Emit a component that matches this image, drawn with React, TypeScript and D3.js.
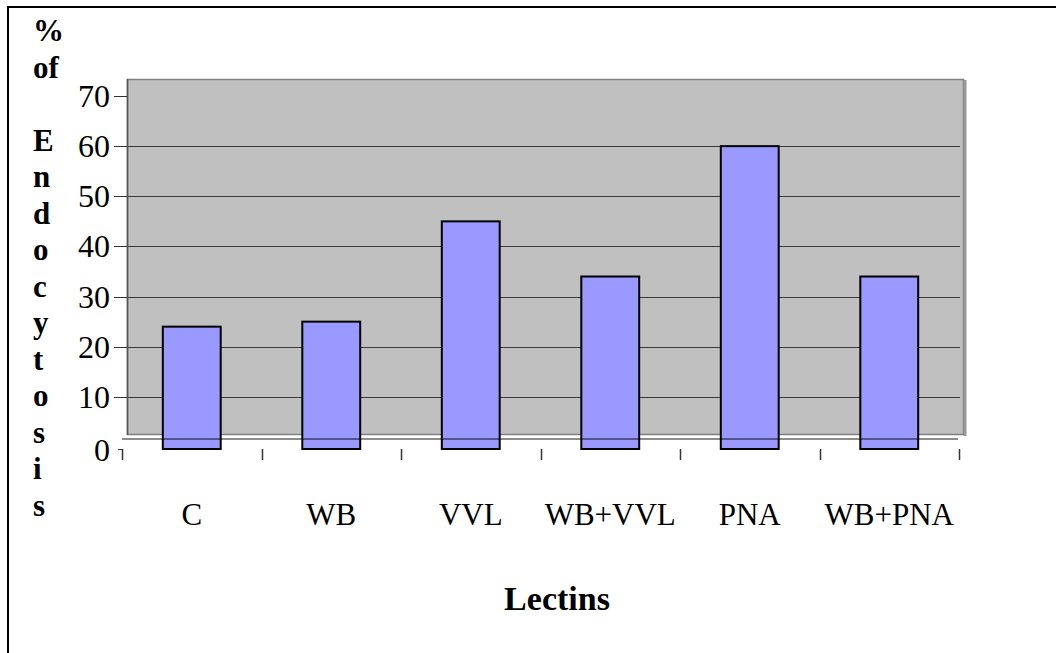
import * as d3 from "d3";
import { useEffect, useRef } from "react";

// данные диаграммы
const categories = ["C", "WB", "VVL", "WB+VVL", "PNA", "WB+PNA"];
const values = [24, 25, 45, 34, 60, 34];
const yTicks = [0, 10, 20, 30, 40, 50, 60, 70];
const gridTicks = [10, 20, 30, 40, 50, 60];
const yTitleRows = ["%", "of", "", "E", "n", "d", "o", "c", "y", "t", "o", "s", "i", "s"];
const xTitle = "Lectins";

const FONT = "'Liberation Serif', 'Times New Roman', serif";

const App = () => {
  const chartRef = useRef<SVGSVGElement | null>(null);

  const width = 1056;
  const height = 653;

  useEffect(() => {
    const svg = d3.select(chartRef.current);
    svg.selectAll("*").remove();

    // шкалы
    const scaleX = d3.scaleBand().domain(categories).range([122, 959]);
    const scaleY = d3.scaleLinear().domain([0, 70]).range([447, 96]);

    // внешняя рамка
    svg.append("rect")
      .attr("x", 8).attr("y", 7)
      .attr("width", 1100).attr("height", 700)
      .attr("fill", "white")
      .attr("stroke", "black")
      .attr("stroke-width", 2);

    // серая область графика
    svg.append("rect")
      .attr("x", 127.5).attr("y", 79.5)
      .attr("width", 836).attr("height", 355)
      .attr("fill", "#c0c0c0")
      .attr("stroke", "#808080")
      .attr("stroke-width", 1.5);
    svg.append("line")
      .attr("x1", 965).attr("x2", 965)
      .attr("y1", 80).attr("y2", 436)
      .attr("stroke", "#999").attr("stroke-width", 3);
    svg.append("line")
      .attr("x1", 127.5).attr("x2", 127.5)
      .attr("y1", 79).attr("y2", 435)
      .attr("stroke", "#555").attr("stroke-width", 1.5);

    // линии сетки
    svg.selectAll(".grid")
      .data(gridTicks)
      .enter()
      .append("line")
      .attr("x1", 128).attr("x2", 960)
      .attr("y1", d => Math.round(scaleY(d)) + 0.5)
      .attr("y2", d => Math.round(scaleY(d)) + 0.5)
      .attr("stroke", "#3a3a3a").attr("stroke-width", 1);

    // засечки и подписи оси Y
    svg.selectAll(".ytick")
      .data(yTicks.filter(d => d > 0))
      .enter()
      .append("line")
      .attr("x1", 114).attr("x2", 127)
      .attr("y1", d => Math.round(scaleY(d)) + 0.5)
      .attr("y2", d => Math.round(scaleY(d)) + 0.5)
      .attr("stroke", "#333");
    svg.append("line")
      .attr("x1", 118).attr("x2", 123)
      .attr("y1", scaleY(0) + 2.5).attr("y2", scaleY(0) + 2.5)
      .attr("stroke", "#333");

    svg.selectAll(".ylabel")
      .data(yTicks)
      .enter()
      .append("text")
      .attr("x", 110)
      .attr("y", d => scaleY(d) + (d === 0 ? 14 : 11))
      .attr("text-anchor", "end")
      .style("font-family", FONT)
      .style("font-size", "32px")
      .text(d => d);

    // засечки оси X
    const xTickPos = [122, ...categories.map(c => (scaleX(c) as number) + scaleX.bandwidth())];
    svg.selectAll(".xtick")
      .data(xTickPos)
      .enter()
      .append("line")
      .attr("x1", d => Math.round(d) + 0.5).attr("x2", d => Math.round(d) + 0.5)
      .attr("y1", scaleY(0) + 2).attr("y2", scaleY(0) + 13)
      .attr("stroke", "#333").attr("stroke-width", 1.5);

    // столбцы
    const barWidth = scaleX.bandwidth() * 0.415;
    svg.selectAll(".bar")
      .data(values)
      .enter()
      .append("rect")
      .attr("x", (d, i) => (scaleX(categories[i]) as number) + scaleX.bandwidth() / 2 - barWidth / 2)
      .attr("y", d => scaleY(d))
      .attr("width", barWidth)
      .attr("height", d => scaleY(0) + 2 - scaleY(d))
      .attr("fill", "#9999ff")
      .attr("stroke", "black")
      .attr("stroke-width", 2);

    // линия "пола"
    svg.append("line")
      .attr("x1", 122).attr("x2", 958)
      .attr("y1", 439).attr("y2", 439)
      .attr("stroke", "black").attr("stroke-opacity", 0.45)
      .attr("stroke-width", 2);

    // подписи категорий
    svg.selectAll(".xlabel")
      .data(categories)
      .enter()
      .append("text")
      .attr("x", d => (scaleX(d) as number) + scaleX.bandwidth() / 2)
      .attr("y", 525)
      .attr("text-anchor", "middle")
      .style("font-family", FONT)
      .style("font-size", "31px")
      .text(d => d);

    // заголовок оси X
    svg.append("text")
      .attr("x", 557).attr("y", 610)
      .attr("text-anchor", "middle")
      .style("font-family", FONT)
      .style("font-size", "34px")
      .style("font-weight", "bold")
      .text(xTitle);

    // заголовок оси Y (буквы столбиком)
    svg.selectAll(".ytitle")
      .data(yTitleRows)
      .enter()
      .append("text")
      .attr("x", 33)
      .attr("y", (d, i) => 41 + i * 36.5)
      .style("font-family", FONT)
      .style("font-size", "31px")
      .style("font-weight", "bold")
      .text(d => d);
  }, []);

  return (
    <svg
      ref={chartRef}
      width={width}
      height={height}
      style={{ position: "absolute", left: 0, top: 0, background: "white" }}
    ></svg>
  );
};

export default App;
